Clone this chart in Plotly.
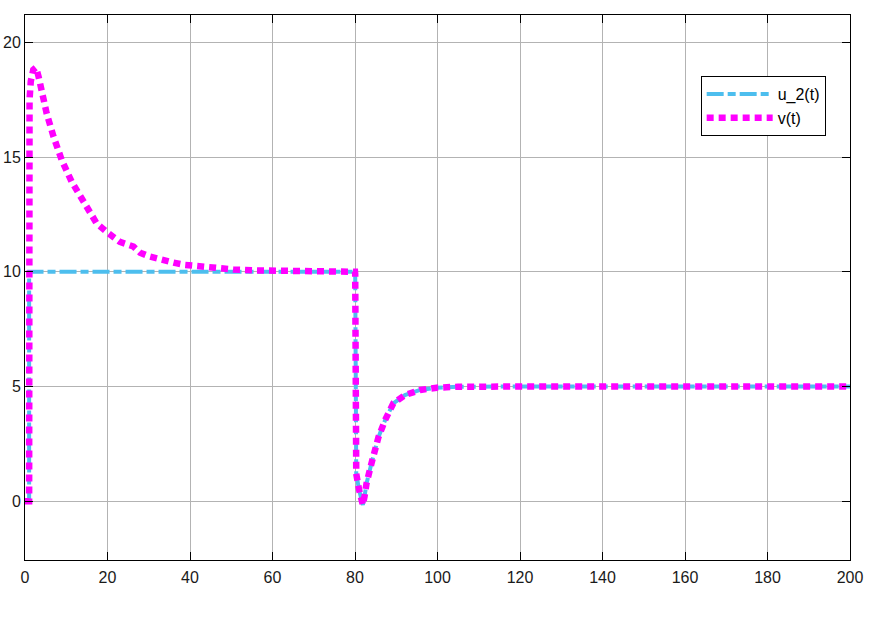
import plotly.graph_objects as go

# --- data ---
# v(t): start, fast rise, exponential-like decay to 10
t_v_head = [0, 1, 1.1, 1.4, 2.0, 2.67, 3.3, 4.0, 5.25, 6.9, 8.9, 11.3, 14.1, 17.4,
            20.2, 23.0, 26.3, 27.9, 30.3, 33.1, 36.0, 38.8, 44.8, 50.5, 56.1,
            61.8, 70.7]
v_head = [0, 0, 17.5, 18.3, 18.8, 18.9, 18.5, 17.9, 16.9, 15.9, 14.87, 13.93, 13.05,
          12.1, 11.68, 11.3, 11.1, 10.83, 10.66, 10.51, 10.4, 10.3, 10.18, 10.1,
          10.06, 10.03, 10.01]

# u_2(t): step to 10 at t=1
t_u_head = [0, 1, 1]
u_head = [0, 0, 10]

# shared segment from t=80 (both signals coincide)
t_tail = [80, 80.05, 80.3, 81.0, 81.5, 81.9, 82.3, 82.8, 84.0, 85.7, 87.3, 89.3,
          92.1, 95.8, 99.8, 105, 120, 200]
tail = [10.0, 9.9, 1.2, 0.49, 0.05, -0.16, 0.2, 0.78, 1.66, 2.8, 3.54, 4.27,
        4.63, 4.85, 4.95, 4.99, 5.0, 5.0]

x_ticks = [0, 20, 40, 60, 80, 100, 120, 140, 160, 180, 200]
y_ticks = [0, 5, 10, 15, 20]

t_u = t_u_head + t_tail
u = u_head + tail
t_v = t_v_head + t_tail
v = v_head + tail

fig = go.Figure()
fig.add_trace(go.Scatter(
    x=t_u, y=u, mode="lines", name="u_2(t)",
    line=dict(color="#4DBEEE", width=4, dash="17px,4px,8px,4px"),
))
fig.add_trace(go.Scatter(
    x=t_v, y=v, mode="lines", name="v(t)",
    line=dict(color="#FF00FF", width=6.5, dash="7px,5px"),
))

axis_common = dict(
    showgrid=True, gridcolor="#b3b3b3", gridwidth=1,
    showline=True, linecolor="black", linewidth=1, mirror="ticks",
    ticks="inside", ticklen=8, tickcolor="black", tickwidth=1,
    zeroline=False, automargin=False,
    tickfont=dict(family="Liberation Sans", size=16, color="#1a1a1a"),
)

fig.update_xaxes(range=[0, 200], tickvals=x_ticks, ticklabelstandoff=3, **axis_common)
fig.update_yaxes(range=[-2.56, 21.19], tickvals=y_ticks, **axis_common)

fig.update_layout(
    width=875, height=619,
    margin=dict(l=25, r=25, t=15, b=59),
    plot_bgcolor="white", paper_bgcolor="white",
    showlegend=True,
    legend=dict(
        x=0.819, y=0.888, xanchor="left", yanchor="top",
        bgcolor="white", bordercolor="black", borderwidth=1,
        font=dict(family="Liberation Sans", size=16, color="black"),
        itemwidth=66, tracegroupgap=0,
    ),
)

fig.write_html(
    "out.html",
    config={"displayModeBar": False},
    post_script="document.body.style.margin='0';document.body.style.padding='0';",
)
